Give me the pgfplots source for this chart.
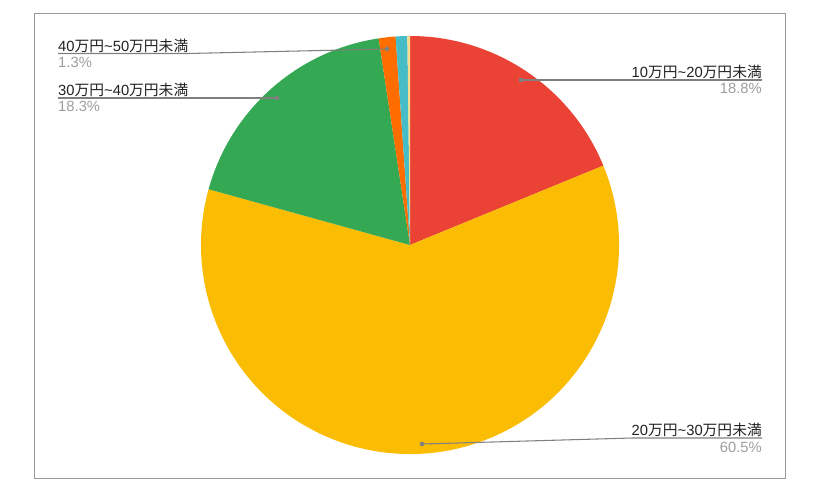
\documentclass[border=0pt]{standalone}
\usepackage{pgfplots}
\pgfplotsset{compat=1.18}
\usepackage{pgfplotstable}
\usepackage{fontspec}
\setmainfont{Liberation Sans}
\newfontfamily\cjk{Noto Sans CJK JP}

\definecolor{cA}{HTML}{EA4335}
\definecolor{cB}{HTML}{FBBC04}
\definecolor{cC}{HTML}{34A853}
\definecolor{cD}{HTML}{FF6D01}
\definecolor{cE}{HTML}{46BDC6}
\definecolor{cF}{HTML}{F7DC8A}
\definecolor{labelc}{HTML}{222222}
\definecolor{pctc}{HTML}{9E9E9E}
\definecolor{leader}{HTML}{808080}
\definecolor{framec}{HTML}{9A9A9A}

% share of each slice, clockwise from 12 o'clock
\pgfplotstableread{
value color
18.8 cA
60.5 cB
18.3 cC
1.3  cD
0.9  cE
0.2  cF
}\piedata

\newcommand\range[2]{#1{\cjk 万円}\textasciitilde#2{\cjk 万円未満}}
\newcommand\lblfont{\fontsize{12.6}{14}\selectfont}

\def\R{6.27cm}
\def\cum{0}
\def\piecmds{}
\pgfplotsforeachungrouped \i in {0,...,5}{%
  \pgfplotstablegetelem{\i}{value}\of\piedata \let\pv\pgfplotsretval
  \pgfplotstablegetelem{\i}{color}\of\piedata \let\col\pgfplotsretval
  \pgfmathsetmacro\sa{90-3.6*\cum}%
  \pgfmathsetmacro\ea{90-3.6*(\cum+\pv)}%
  \pgfmathsetmacro\cum{\cum+\pv}%
  \xdef\piecmds{\expandafter\unexpanded\expandafter{\piecmds}%
    \noexpand\fill[\col] (axis cs:410,245) -- ++(\sa:\R)
    arc[start angle=\sa, end angle=\ea, radius=\R] -- cycle;}%
}

\begin{document}
\begin{tikzpicture}
\begin{axis}[x=0.03cm, y=0.03cm, xmin=0, xmax=816, ymin=0, ymax=494,
  y dir=reverse, hide axis, clip=false]
  \path[fill=white] (axis cs:0,0) rectangle (axis cs:816,494);
  \draw[framec, line width=0.8pt] (axis cs:34,13) rectangle (axis cs:785,478);
  \piecmds
  % leader lines
  \draw[leader, line width=0.9pt] (axis cs:521,80) -- (axis cs:762,80);
  \draw[leader, line width=0.9pt] (axis cs:422,444) -- (axis cs:632,438) -- (axis cs:762,438);
  \draw[leader, line width=0.9pt] (axis cs:58,98) -- (axis cs:277,98);
  \draw[leader, line width=0.9pt] (axis cs:58,53.5) -- (axis cs:188,53.5) -- (axis cs:387,49);
  \fill[leader] (axis cs:521,80) circle[radius=0.07cm];
  \fill[leader] (axis cs:422,444) circle[radius=0.07cm];
  \fill[leader] (axis cs:277,98) circle[radius=0.07cm];
  \fill[leader] (axis cs:387,49) circle[radius=0.07cm];
  % labels
  \node[anchor=base east, inner sep=0, font=\lblfont, text=labelc] at (axis cs:762,77) {\range{10}{20}};
  \node[anchor=base east, inner sep=0, font=\lblfont, text=pctc] at (axis cs:762,93) {18.8\%};
  \node[anchor=base east, inner sep=0, font=\lblfont, text=labelc] at (axis cs:762,435) {\range{20}{30}};
  \node[anchor=base east, inner sep=0, font=\lblfont, text=pctc] at (axis cs:762,452) {60.5\%};
  \node[anchor=base west, inner sep=0, font=\lblfont, text=labelc] at (axis cs:58,95) {\range{30}{40}};
  \node[anchor=base west, inner sep=0, font=\lblfont, text=pctc] at (axis cs:58,111.5) {18.3\%};
  \node[anchor=base west, inner sep=0, font=\lblfont, text=labelc] at (axis cs:58,51) {\range{40}{50}};
  \node[anchor=base west, inner sep=0, font=\lblfont, text=pctc] at (axis cs:58,67) {1.3\%};
\end{axis}
\end{tikzpicture}
\end{document}
